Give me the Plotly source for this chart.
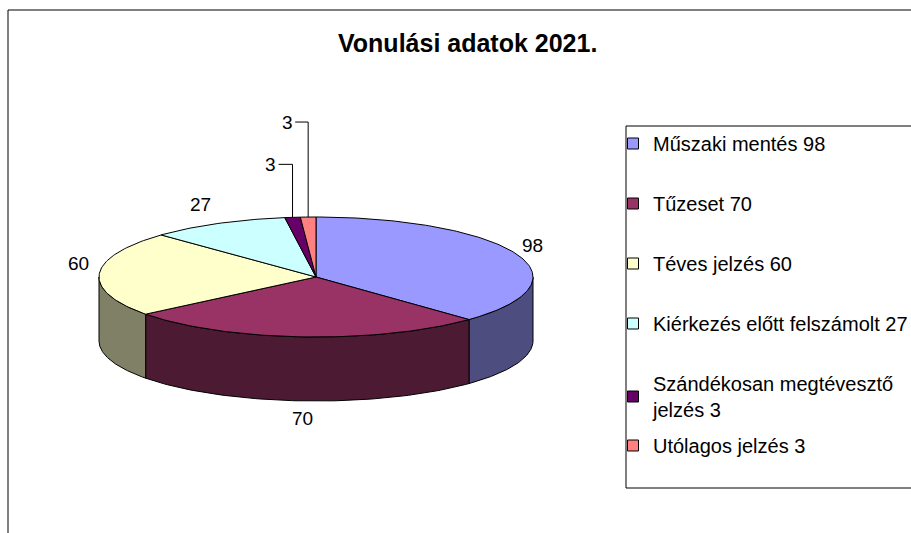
import numpy as np
import plotly.graph_objects as go

# ---- data ----
categories = ["Műszaki mentés", "Tűzeset", "Téves jelzés",
              "Kiérkezés előtt felszámolt", "Szándékosan megtévesztő jelzés",
              "Utólagos jelzés"]
values = [98, 70, 60, 27, 3, 3]
legend_labels = ["Műszaki mentés 98", "Tűzeset 70", "Téves jelzés 60",
                 "Kiérkezés előtt felszámolt 27",
                 "Szándékosan megtévesztő<br>jelzés 3", "Utólagos jelzés 3"]
title_text = "Vonulási adatok 2021."

# ---- style ----
top_colors = ["#9999FF", "#993366", "#FFFFCC", "#CCFFFF", "#660066", "#FF8080"]
side_colors = ["#4D4D80", "#4D1A33", "#808066", "#668080", "#330033", "#804040"]
legend_ids = ["legend", "legend", "legend", "legend", "legend", "legend2"]
FONT = "Arial, Liberation Sans, sans-serif"
W, H = 911, 533
CX, CY, RX, RY, DEPTH = 316, 277, 217, 60, 64
# label offsets from the ellipse point at each slice's mid angle (px)
label_offsets = [(16, -9), (0, 82), (-21, -10), (-17, -19), (-22, -53), (-21, -95)]
leader = [False, False, False, False, True, True]

total = sum(values)
cum = np.concatenate([[0], np.cumsum(values)])
a_start = 90 - 360 * cum[:-1] / total   # degrees, clockwise from 12 o'clock
a_end = 90 - 360 * cum[1:] / total


def ell(a_deg, dy=0.0):
    a = np.radians(a_deg)
    return CX + RX * np.cos(a), CY - RY * np.sin(a) + dy


fig = go.Figure()

# side walls (front half of the ellipse: angles between -180 and 0)
for i in range(len(values)):
    hi, lo = a_start[i], a_end[i]
    for k in (0, -360):
        s_lo, s_hi = max(lo, -180 + k), min(hi, 0 + k)
        if s_hi > s_lo:
            ang = np.linspace(s_hi, s_lo, 80)
            xt, yt = ell(ang)
            xb, yb = ell(ang[::-1], DEPTH)
            fig.add_trace(go.Scatter(
                x=np.concatenate([xt, xb, xt[:1]]),
                y=np.concatenate([yt, yb, yt[:1]]),
                mode="lines", fill="toself", fillcolor=side_colors[i],
                line=dict(color="black", width=1), hoverinfo="skip",
                showlegend=False))

# top faces
for i in range(len(values)):
    ang = np.linspace(a_start[i], a_end[i], max(4, int(abs(a_start[i] - a_end[i]))))
    xs, ys = ell(ang)
    fig.add_trace(go.Scatter(
        x=np.concatenate([[CX], xs, [CX]]),
        y=np.concatenate([[CY], ys, [CY]]),
        mode="lines", fill="toself", fillcolor=top_colors[i],
        line=dict(color="black", width=1), hoverinfo="skip",
        name=categories[i], showlegend=False))

# data labels
for i, v in enumerate(values):
    mid = (a_start[i] + a_end[i]) / 2
    ax_, ay_ = ell(mid)
    lx, ly = ax_ + label_offsets[i][0], ay_ + label_offsets[i][1]
    fig.add_annotation(x=lx, y=ly, text=str(v), showarrow=False,
                       font=dict(family=FONT, size=19, color="black"),
                       xref="x", yref="y")
    if leader[i]:
        fig.add_trace(go.Scatter(x=[lx + 8, ax_, ax_], y=[ly, ly, ay_],
                                 mode="lines", line=dict(color="black", width=1),
                                 hoverinfo="skip", showlegend=False))

# legend entries
for i, lab in enumerate(legend_labels):
    fig.add_trace(go.Scatter(
        x=[None], y=[None], mode="markers", name=lab, legendgroup=str(i),
        legend=legend_ids[i],
        marker=dict(symbol="square", size=11, color=top_colors[i],
                    line=dict(color="black", width=1))))

fig.add_annotation(x=467, y=43, xref="x", yref="y", showarrow=False,
                   text="<b>" + title_text + "</b>",
                   font=dict(family=FONT, size=25, color="black"))

# outer chart border
fig.add_shape(type="rect", xref="x", yref="y", x0=8, y0=10, x1=W + 30, y1=H + 30,
              line=dict(color="black", width=1))
# legend box
fig.add_shape(type="rect", xref="x", yref="y", x0=626, y0=126, x1=W + 30, y1=488,
              line=dict(color="black", width=1), fillcolor="white", layer="below")

leg_common = dict(xanchor="left", yanchor="top", bgcolor="rgba(0,0,0,0)",
                  borderwidth=0, font=dict(family=FONT, size=20, color="black"),
                  tracegroupgap=31, itemclick=False, itemdoubleclick=False)
fig.update_layout(
    width=W, height=H,
    margin=dict(l=0, r=0, t=0, b=0, pad=0, autoexpand=False),
    paper_bgcolor="white", plot_bgcolor="rgba(0,0,0,0)",
    xaxis=dict(range=[0, W], visible=False, fixedrange=True),
    yaxis=dict(range=[H, 0], visible=False, fixedrange=True),
    showlegend=True,
    legend=dict(x=613 / W, y=1 - 124 / H, **leg_common),
    legend2=dict(x=613 / W, y=1 - 426 / H, **leg_common),
)

fig.write_html("out.html", config={"displayModeBar": False},
               post_script="document.body.style.margin='0';"
                           "document.body.style.overflow='hidden';")
